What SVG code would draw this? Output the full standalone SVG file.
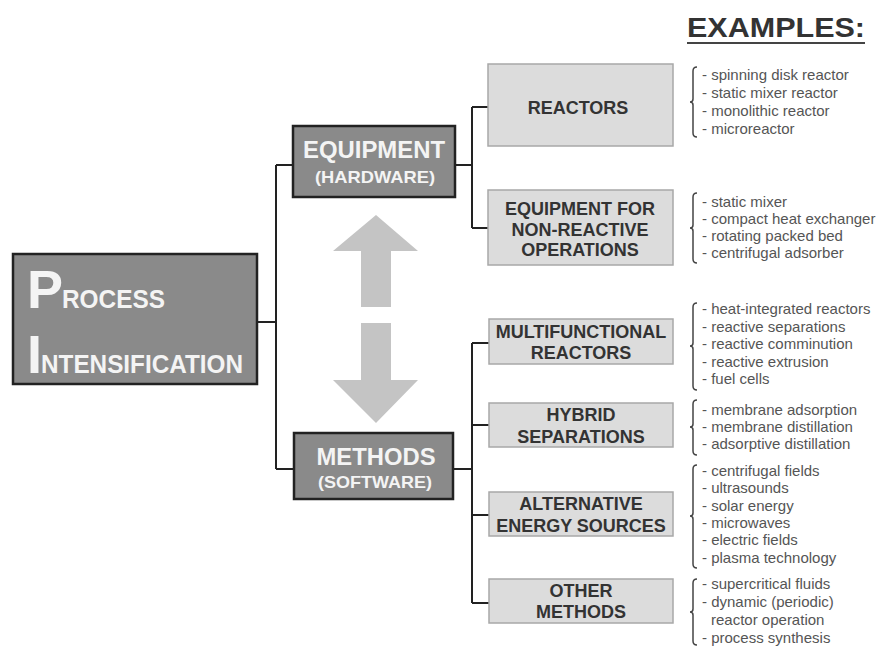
<svg xmlns="http://www.w3.org/2000/svg" width="881" height="646" viewBox="0 0 881 646">
<style>
.dark{fill:#8a8a8a;stroke:#222;stroke-width:2.5}
.light{fill:#dcdcdc;stroke:#a8a8a8;stroke-width:1.5}
.wt{fill:#f4f4f4;font-family:"Liberation Sans",Arial,sans-serif;font-weight:bold;text-anchor:middle}
.lbl{fill:#333;font-family:"Liberation Sans",Arial,sans-serif;font-weight:bold;font-size:18px;text-anchor:middle}
.ex{fill:#555;font-family:"Liberation Sans",Arial,sans-serif;font-size:15px}
.br{fill:none;stroke:#444;stroke-width:1.5}
.ln{fill:none;stroke:#222;stroke-width:2}
.arr{fill:#c4c4c4}
</style>
<rect width="881" height="646" fill="#fff"/>

<g id="connectors">
<path class="ln" d="M257,322 H276 M276,165 V469 M276,165 H293 M276,469 H294"/>
<path class="ln" d="M455,165 H472 M472,107 V228 M472,107 H488 M472,228 H488"/>
<path class="ln" d="M453,469 H472 M472,343 V603 M472,343 H489 M472,425 H489 M472,515 H489 M472,603 H489"/>
</g>

<g id="arrows">
<polygon class="arr" points="376,215 418,251 391,251 391,307 361,307 361,251 333,251"/>
<polygon class="arr" points="361,323 391,323 391,380 418,380 376,423 333,380 361,380"/>
</g>

<g id="title">
<text x="687" y="37" font-family="Liberation Sans,Arial,sans-serif" font-weight="bold" font-size="28" fill="#333" textLength="178" lengthAdjust="spacingAndGlyphs">EXAMPLES:</text>
<rect x="687" y="42" width="178" height="2" fill="#444"/>
</g>

<g id="pi">
<rect class="dark" x="13" y="254" width="244" height="130" stroke-width="3"/>
<text x="27" y="308" class="wt" style="text-anchor:start" font-size="54">P</text>
<text x="62" y="308" class="wt" style="text-anchor:start" font-size="25" textLength="103" lengthAdjust="spacingAndGlyphs">ROCESS</text>
<text x="27" y="373" class="wt" style="text-anchor:start" font-size="54">I</text>
<text x="41" y="373" class="wt" style="text-anchor:start" font-size="25" textLength="202" lengthAdjust="spacingAndGlyphs">NTENSIFICATION</text>
</g>

<g id="equipment">
<rect class="dark" x="293" y="126" width="162" height="71"/>
<text x="374" y="158" class="wt" font-size="24" textLength="142" lengthAdjust="spacingAndGlyphs">EQUIPMENT</text>
<text x="375" y="183" class="wt" font-size="17" textLength="120" lengthAdjust="spacingAndGlyphs">(HARDWARE)</text>
</g>

<g id="methods">
<rect class="dark" x="294" y="433" width="159" height="66"/>
<text x="376" y="465" class="wt" font-size="24" textLength="119" lengthAdjust="spacingAndGlyphs">METHODS</text>
<text x="375" y="488" class="wt" font-size="17" textLength="114" lengthAdjust="spacingAndGlyphs">(SOFTWARE)</text>
</g>

<g id="reactors">
<rect class="light" x="488" y="64" width="185" height="82"/>
<text x="578" y="114" class="lbl">REACTORS</text>
<path class="br" d="M697,67 Q693,67 693,71 L693,99 Q693,102 690,102 Q693,102 693,105 L693,133 Q693,137 697,137"/>
<text class="ex" x="702" y="80">- spinning disk reactor</text>
<text class="ex" x="702" y="98">- static mixer reactor</text>
<text class="ex" x="702" y="116">- monolithic reactor</text>
<text class="ex" x="702" y="134">- microreactor</text>
</g>

<g id="equip-nonreactive">
<rect class="light" x="488" y="190" width="185" height="75"/>
<text x="580" y="215" class="lbl">EQUIPMENT FOR</text>
<text x="580" y="236" class="lbl">NON-REACTIVE</text>
<text x="580" y="256" class="lbl">OPERATIONS</text>
<path class="br" d="M697,193 Q693,193 693,197 L693,225 Q693,228 690,228 Q693,228 693,231 L693,259 Q693,263 697,263"/>
<text class="ex" x="702" y="207">- static mixer</text>
<text class="ex" x="702" y="224">- compact heat exchanger</text>
<text class="ex" x="702" y="241">- rotating packed bed</text>
<text class="ex" x="702" y="258">- centrifugal adsorber</text>
</g>

<g id="multifunctional">
<rect class="light" x="489" y="319" width="184" height="45"/>
<text x="581" y="338" class="lbl">MULTIFUNCTIONAL</text>
<text x="581" y="359" class="lbl">REACTORS</text>
<path class="br" d="M697,303 Q693,303 693,307 L693,343 Q693,346 690,346 Q693,346 693,349 L693,386 Q693,390 697,390"/>
<text class="ex" x="702" y="314">- heat-integrated reactors</text>
<text class="ex" x="702" y="332">- reactive separations</text>
<text class="ex" x="702" y="349">- reactive comminution</text>
<text class="ex" x="702" y="367">- reactive extrusion</text>
<text class="ex" x="702" y="384">- fuel cells</text>
</g>

<g id="hybrid">
<rect class="light" x="489" y="403" width="184" height="44"/>
<text x="581" y="421" class="lbl">HYBRID</text>
<text x="581" y="443" class="lbl">SEPARATIONS</text>
<path class="br" d="M697,400 Q693,400 693,404 L693,424 Q693,427 690,427 Q693,427 693,430 L693,451 Q693,455 697,455"/>
<text class="ex" x="702" y="415">- membrane adsorption</text>
<text class="ex" x="702" y="432">- membrane  distillation</text>
<text class="ex" x="702" y="449">- adsorptive distillation</text>
</g>

<g id="alternative">
<rect class="light" x="489" y="492" width="184" height="44"/>
<text x="581" y="510" class="lbl">ALTERNATIVE</text>
<text x="581" y="532" class="lbl">ENERGY SOURCES</text>
<path class="br" d="M697,465 Q693,465 693,469 L693,513 Q693,516 690,516 Q693,516 693,519 L693,564 Q693,568 697,568"/>
<text class="ex" x="702" y="476">- centrifugal fields</text>
<text class="ex" x="702" y="493">- ultrasounds</text>
<text class="ex" x="702" y="511">- solar energy</text>
<text class="ex" x="702" y="528">- microwaves</text>
<text class="ex" x="702" y="545">- electric fields</text>
<text class="ex" x="702" y="563">- plasma technology</text>
</g>

<g id="other">
<rect class="light" x="489" y="579" width="184" height="44"/>
<text x="581" y="597" class="lbl">OTHER</text>
<text x="581" y="618" class="lbl">METHODS</text>
<path class="br" d="M697,579 Q693,579 693,583 L693,609 Q693,612 690,612 Q693,612 693,615 L693,641 Q693,645 697,645"/>
<text class="ex" x="702" y="589">- supercritical fluids</text>
<text class="ex" x="702" y="607">- dynamic (periodic)</text>
<text class="ex" x="711" y="625">reactor operation</text>
<text class="ex" x="702" y="643">- process synthesis</text>
</g>
</svg>
